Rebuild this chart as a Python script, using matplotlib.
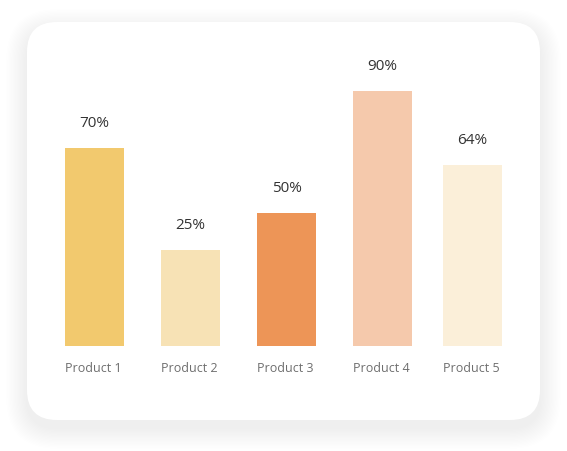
import matplotlib
matplotlib.use("Agg")
import matplotlib.pyplot as plt
from matplotlib.patches import FancyBboxPatch
import numpy as np

# ---- data ----
categories = ["Product 1", "Product 2", "Product 3", "Product 4", "Product 5"]
value_labels = ["70%", "25%", "50%", "90%", "64%"]
bar_heights = [70, 34, 47, 90, 64]          # drawn heights
bar_colors = ["#F2C96E", "#F7E2B5", "#ED9557", "#F5C9AC", "#FBEFD9"]

W, H, DPI = 567, 451, 100
fig = plt.figure(figsize=(W / DPI, H / DPI), dpi=DPI)
fig.patch.set_facecolor("white")

# ---- background card with soft shadow (pixel coordinates) ----
bg = fig.add_axes([0, 0, 1, 1])
bg.set_xlim(0, W)
bg.set_ylim(H, 0)
bg.axis("off")
cx0, cy0, cx1, cy1, rad = 27, 22, 540, 420, 30
layers = 16
for k in range(layers, 0, -1):
    s = k * 1.3
    p = FancyBboxPatch((cx0 - s, cy0 - s + 8), (cx1 - cx0) + 2 * s, (cy1 - cy0) + 2 * s,
                       boxstyle=f"round,pad=0,rounding_size={rad + s}",
                       facecolor="black", edgecolor="none", alpha=0.0032, zorder=1)
    bg.add_patch(p)
card = FancyBboxPatch((cx0, cy0), cx1 - cx0, cy1 - cy0,
                      boxstyle=f"round,pad=0,rounding_size={rad}",
                      facecolor="white", edgecolor="none", zorder=2)
bg.add_patch(card)

# ---- chart axes ----
slot_pos = np.array([0, 1.016, 2.032, 3.048, 4.0])   # layout: bar slot positions
bar_w = 0.624
ax_left = 37.8 / W
ax_w = (529.2 - 37.8) / W
base_px = 346
top_px = base_px - 100 * (255 / 90)
ax = fig.add_axes([ax_left, (H - base_px) / H, ax_w, (base_px - top_px) / H])
ax.set_xlim(-0.6, 4.6)
ax.set_ylim(0, 100)
ax.patch.set_alpha(0)
ax.axis("off")

font = "Open Sans"
bars = ax.bar(slot_pos, bar_heights, width=bar_w, color=bar_colors, zorder=3)
for b, lab in zip(bars, value_labels):
    ax.annotate(lab, (b.get_x() + b.get_width() / 2, b.get_height()),
                xytext=(0, 17.5), textcoords="offset points",
                ha="center", va="center", fontsize=11, color="#333333",
                family=font)
for b, cat in zip(bars, categories):
    ax.annotate(cat, (b.get_x(), 0), xytext=(0, -16), textcoords="offset points",
                ha="left", va="center", fontsize=9, color="#6e6e6e", family=font)

fig.savefig("out.png", dpi=DPI, facecolor="white")
